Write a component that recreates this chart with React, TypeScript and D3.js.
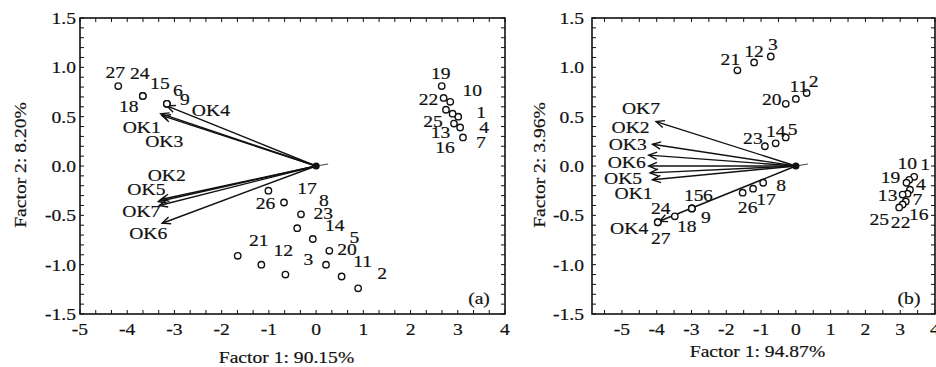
import React from "react";
import * as d3 from "d3";

// ---------- DATA ----------
const obsIds = ["1","2","3","4","5","6","7","8","9","10","11","12","13","14","15","16","17","18","19","20","21","22","23","24","25","26","27"];

// Panel (a) scores
const scoreAx = [3.01, 0.89, -0.65, 3.05, 0.28, -3.16, 3.11, -0.32, -3.16, 2.84, 0.54, -1.16, 2.89, -0.07, -3.16, 2.92, -0.68, -3.67, 2.66, 0.21, -1.66, 2.70, -0.40, -3.67, 2.75, -1.01, -4.19];
const scoreAy = [0.50, -1.24, -1.10, 0.39, -0.86, 0.63, 0.29, -0.49, 0.63, 0.65, -1.12, -1.00, 0.53, -0.74, 0.63, 0.43, -0.37, 0.71, 0.81, -1.00, -0.91, 0.69, -0.63, 0.71, 0.57, -0.25, 0.81];

// Panel (b) scores
const scoreBx = [3.40, 0.31, -0.72, 3.28, -0.29, -2.99, 3.21, -0.94, -2.99, 3.26, 0.00, -1.20, 3.07, -0.58, -2.99, 3.16, -1.23, -3.48, 3.18, -0.29, -1.68, 3.07, -0.89, -3.97, 2.97, -1.53, -3.97];
const scoreBy = [-0.11, 0.74, 1.11, -0.24, 0.29, -0.43, -0.28, -0.17, -0.43, -0.14, 0.68, 1.05, -0.29, 0.23, -0.43, -0.36, -0.23, -0.51, -0.17, 0.63, 0.97, -0.39, 0.20, -0.57, -0.42, -0.27, -0.57];

const varNames = ["OK1", "OK2", "OK3", "OK4", "OK5", "OK6", "OK7"];
const loadAx = [-3.29, -3.29, -3.26, -3.16, -3.34, -3.26, -3.32];
const loadAy = [0.53, -0.34, 0.51, 0.61, -0.36, -0.58, -0.40];
const loadBx = [-4.12, -4.12, -4.23, -3.93, -4.19, -4.23, -4.02];
const loadBy = [-0.14, 0.22, 0.11, -0.56, -0.07, 0.00, 0.45];

const xTickValues = [-5, -4, -3, -2, -1, 0, 1, 2, 3, 4];
const yTickValues = [-1.5, -1.0, -0.5, 0.0, 0.5, 1.0, 1.5];

// ---------- LAYOUT (label offsets in px) ----------
const obsLabelOffsetA: [number, number][] = [
  [23, -5], [24, -15], [23, -16], [24, -1], [25, -14], [11, -14], [18, 4], [23, -14], [18, -5],
  [22, -12], [21, -16], [22, -15], [-12, 18], [22, -14], [-7, -21], [-9, 23], [23, -15], [-14, 10],
  [-1, -13], [21, -16], [21, -16], [-15, 1], [26, -15], [-3, -23], [-13, 11], [-3, 12], [-3, -14],
];
const obsLabelOffsetB: [number, number][] = [
  [11, -13], [7, -12], [2, -13], [11, -6], [7, -9], [16, -14], [10, 5], [18, 2], [14, 8],
  [-2, -17], [3, -13], [0, -12], [-15, 0], [0, -12], [2, -14], [13, 12], [13, 10], [12, 10],
  [-16, -6], [-14, -5], [-7, -11], [-2, 17], [-12, -8], [3, -14], [-20, 11], [5, 14], [3, 16],
];
const varLabelOffsetA: [number, number][] = [[-19, 13], [6, -25], [2, 25], [44, 4], [-12, -13], [-14, 10], [-18, 5]];
const varLabelOffsetB: [number, number][] = [[-19, 13], [-22, -17], [-21, -11], [-30, 7], [-27, 5], [-22, -4], [-15, -14]];

const FONT = "'Liberation Serif', 'Times New Roman', serif";
const FS = 17.5;
const SX = 1.12;

type PanelProps = {
  left: number; right: number; top: number; bottom: number;
  xDomain: [number, number]; xMinorStep: number;
  sx: number[]; sy: number[]; lx: number[]; ly: number[];
  obsOff: [number, number][]; varOff: [number, number][];
  xTitle: string; yTitle: string; tag: string;
  yLabelGap: number; yTitleX: number; xTitleY: number;
};

function T({ x, y, anchor = "middle", children, size = FS }: any) {
  return (
    <text transform={`translate(${x},${y}) scale(${SX},1)`} textAnchor={anchor}
      dominantBaseline="central" fontFamily={FONT} fontSize={size} fill="#111"
      stroke="#111" strokeWidth={0.2}>
      {children}
    </text>
  );
}

function Panel(p: PanelProps) {
  const x = d3.scaleLinear().domain(p.xDomain).range([p.left, p.right]);
  const y = d3.scaleLinear().domain([-1.5, 1.5]).range([p.bottom, p.top]);
  const tl = 4;
  const xMinor: number[] = [];
  const start = Math.ceil(p.xDomain[0] / p.xMinorStep - 1e-6);
  for (let k = start; k * p.xMinorStep <= p.xDomain[1] + 1e-6; k++) xMinor.push(k * p.xMinorStep);
  const yMinor = d3.range(-15, 16).map((k) => k / 10);
  const ox = x(0), oy = y(0);

  const arrowHead = (x2: number, y2: number) => {
    const ang = Math.atan2(y2 - oy, x2 - ox);
    const L = 9, a = 0.42;
    const p1 = [x2 - L * Math.cos(ang - a), y2 - L * Math.sin(ang - a)];
    const p2 = [x2 - L * Math.cos(ang + a), y2 - L * Math.sin(ang + a)];
    return `M${p1[0]},${p1[1]}L${x2},${y2}L${p2[0]},${p2[1]}`;
  };

  return (
    <g>
      {/* frame */}
      <rect x={p.left} y={p.top} width={p.right - p.left} height={p.bottom - p.top}
        fill="none" stroke="#111" strokeWidth={1.6} />
      {xMinor.map((v, i) => (
        <g key={"xm" + i}>
          <line x1={x(v)} x2={x(v)} y1={p.bottom} y2={p.bottom - tl} stroke="#111" strokeWidth={1} />
          <line x1={x(v)} x2={x(v)} y1={p.top} y2={p.top + tl} stroke="#111" strokeWidth={1} />
        </g>
      ))}
      {yMinor.map((v, i) => (
        <g key={"ym" + i}>
          <line x1={p.left} x2={p.left + tl} y1={y(v)} y2={y(v)} stroke="#111" strokeWidth={1} />
          <line x1={p.right} x2={p.right - tl} y1={y(v)} y2={y(v)} stroke="#111" strokeWidth={1} />
        </g>
      ))}
      {xTickValues.map((v) => (
        <T key={"xt" + v} x={x(v)} y={p.bottom + 15}>{String(v)}</T>
      ))}
      {yTickValues.map((v) => (
        <T key={"yt" + v} x={p.left - p.yLabelGap} y={y(v)} anchor="end">{v.toFixed(1)}</T>
      ))}
      <T x={(p.left + p.right) / 2 - 6} y={p.xTitleY}>{p.xTitle}</T>
      <text transform={`translate(${p.yTitleX},${(p.top + p.bottom) / 2 - 1}) rotate(-90) scale(${SX},1)`}
        textAnchor="middle" dominantBaseline="central" fontFamily={FONT} fontSize={FS} fill="#111"
        stroke="#111" strokeWidth={0.2}>
        {p.yTitle}
      </text>
      <T x={p.right - 26} y={p.bottom - 16}>{p.tag}</T>

      {/* loadings arrows */}
      <line x1={ox} y1={oy} x2={ox + 12} y2={oy - 2} stroke="#111" strokeWidth={0.8} />
      {varNames.map((n, i) => {
        const x2 = x(p.lx[i]), y2 = y(p.ly[i]);
        return (
          <g key={"v" + n}>
            <line x1={ox} y1={oy} x2={x2} y2={y2} stroke="#111" strokeWidth={1.4} />
            <path d={arrowHead(x2, y2)} fill="none" stroke="#111" strokeWidth={1.4} />
          </g>
        );
      })}
      <circle cx={ox} cy={oy} r={3.6} fill="#111" />

      {/* observations */}
      {obsIds.map((id, i) => (
        <circle key={"c" + id} cx={x(p.sx[i])} cy={y(p.sy[i])} r={3.2}
          fill="white" stroke="#111" strokeWidth={1.4} />
      ))}
      {obsIds.map((id, i) => (
        <T key={"l" + id} x={x(p.sx[i]) + p.obsOff[i][0]} y={y(p.sy[i]) + p.obsOff[i][1]}>{id}</T>
      ))}
      {varNames.map((n, i) => (
        <T key={"vl" + n} x={x(p.lx[i]) + p.varOff[i][0]} y={y(p.ly[i]) + p.varOff[i][1]}>{n}</T>
      ))}
    </g>
  );
}

export default function App() {
  return (
    <svg width={936} height={367} viewBox="0 0 936 367"
      style={{ position: "absolute", left: 0, top: 0, background: "white" }}>
      <rect width={936} height={367} fill="white" />
      <Panel left={80} right={505} top={18} bottom={314} xDomain={[-5, 4]} xMinorStep={1 / 3}
        sx={scoreAx} sy={scoreAy} lx={loadAx} ly={loadAy}
        obsOff={obsLabelOffsetA} varOff={varLabelOffsetA}
        xTitle="Factor 1: 90.15%" yTitle="Factor 2: 8.20%" tag="(a)"
        yLabelGap={4} yTitleX={20} xTitleY={357} />
      <Panel left={592} right={935} top={18} bottom={314} xDomain={[-5.86, 4]} xMinorStep={0.5}
        sx={scoreBx} sy={scoreBy} lx={loadBx} ly={loadBy}
        obsOff={obsLabelOffsetB} varOff={varLabelOffsetB}
        xTitle="Factor 1: 94.87%" yTitle="Factor 2: 3.96%" tag="(b)"
        yLabelGap={8} yTitleX={539} xTitleY={351} />
    </svg>
  );
}
